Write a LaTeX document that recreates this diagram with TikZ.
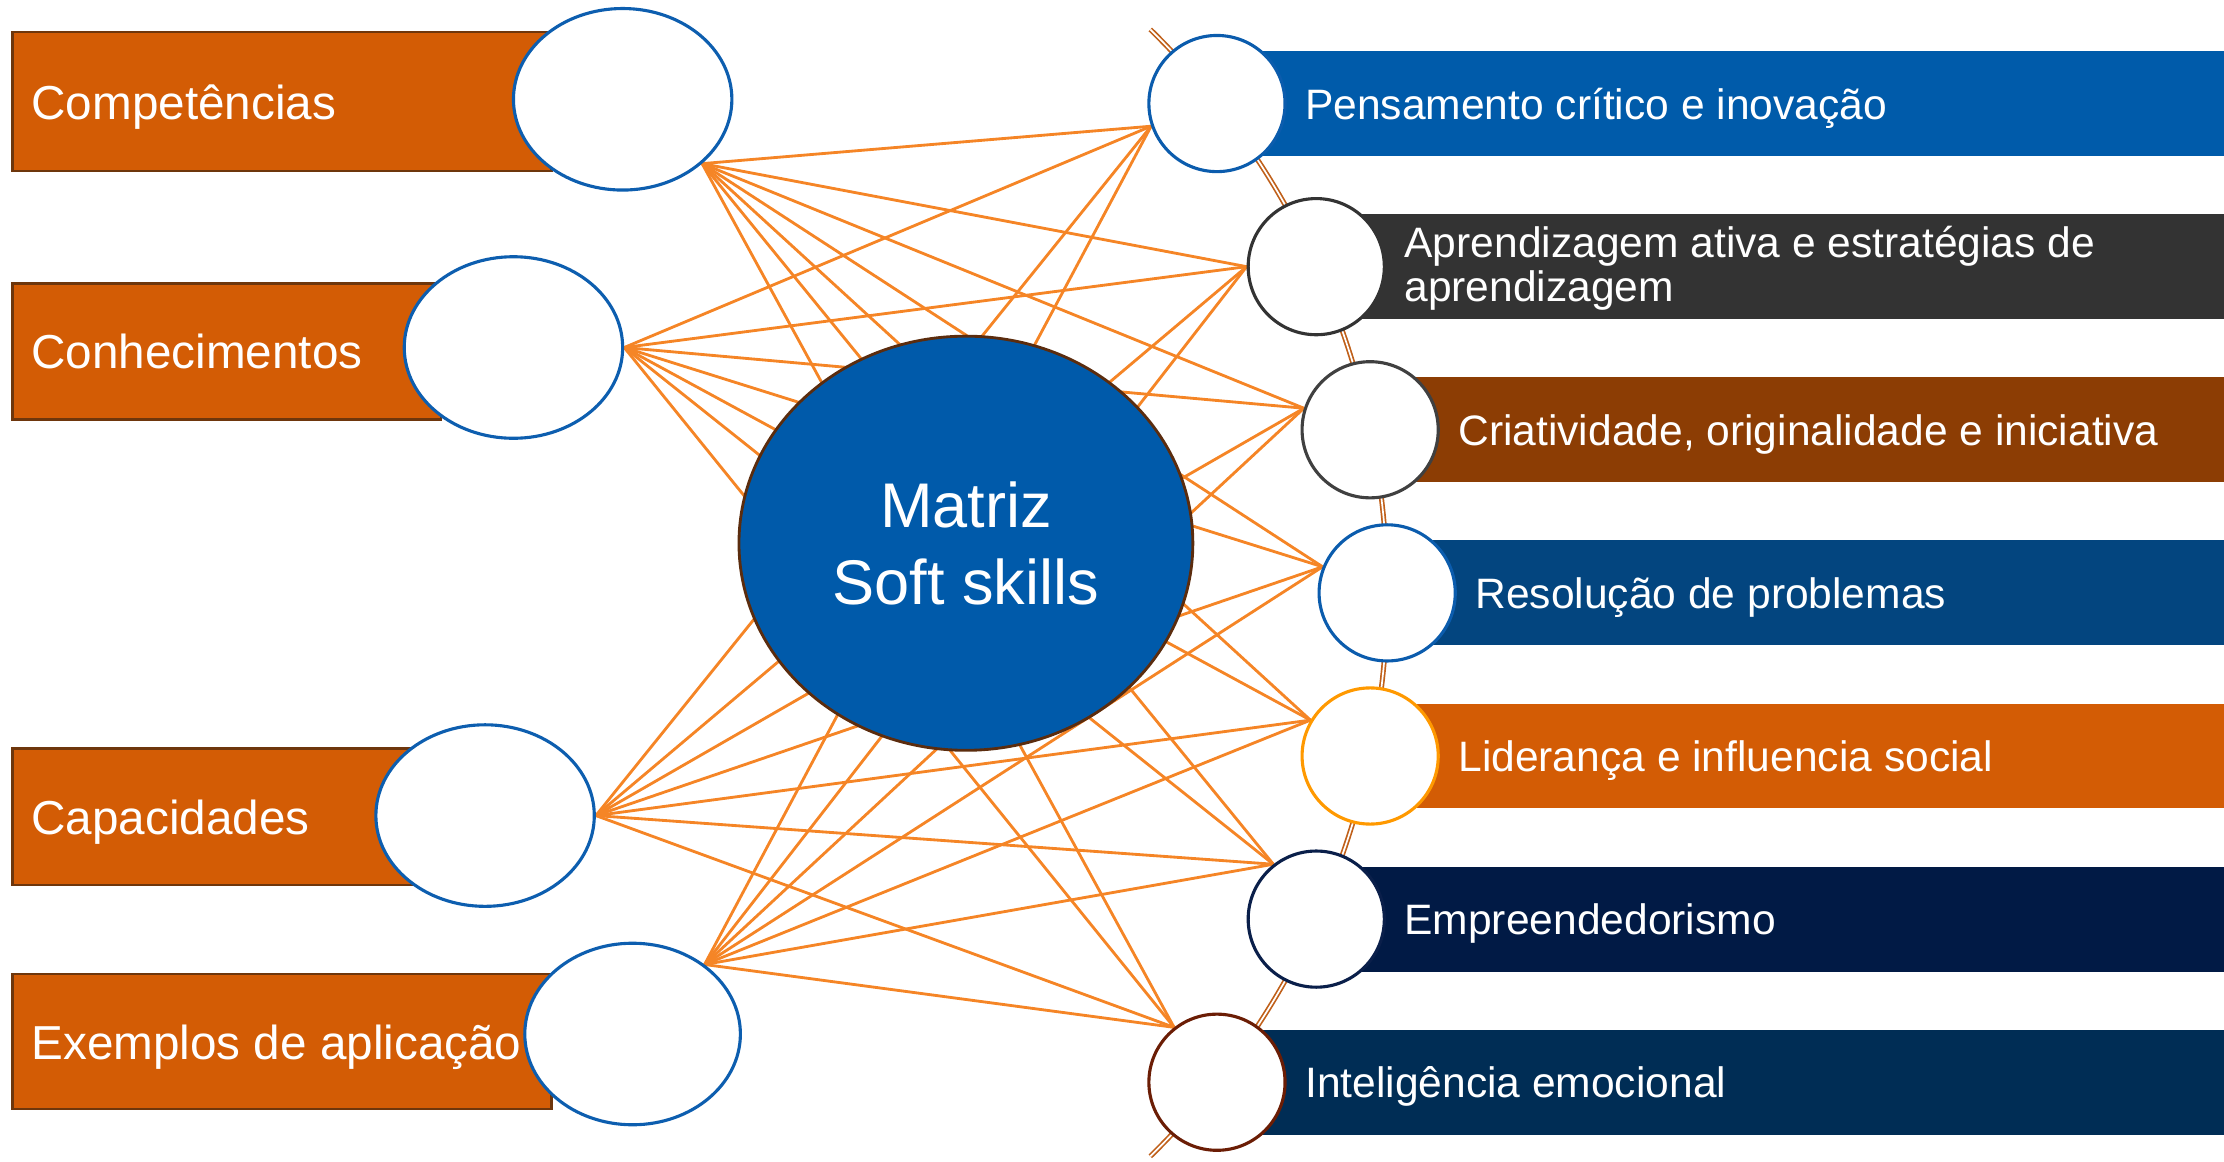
\documentclass[tikz,border=0pt]{standalone}
\usepackage{fontspec}
\setmainfont{Liberation Sans}
\usetikzlibrary{shapes.geometric}
\pgfdeclarelayer{bg}
\pgfdeclarelayer{links}
\pgfsetlayers{bg,links,main}
\definecolor{boxorange}{HTML}{D35C05}
\definecolor{boxedge}{HTML}{6E360C}
\definecolor{ellblue}{HTML}{0D5EAF}
\definecolor{centerblue}{HTML}{005AAA}
\definecolor{centeredge}{HTML}{5B2C0E}
\definecolor{linkorange}{HTML}{F58526}
\definecolor{arcbrown}{HTML}{C0601A}
\definecolor{barA}{HTML}{005BAA}
\definecolor{barB}{HTML}{333333}
\definecolor{barC}{HTML}{8C3D04}
\definecolor{barD}{HTML}{03457F}
\definecolor{barE}{HTML}{D35C05}
\definecolor{barF}{HTML}{011A45}
\definecolor{barG}{HTML}{002D55}
\definecolor{ringA}{HTML}{0B5CAD}
\definecolor{ringB}{HTML}{333333}
\definecolor{ringC}{HTML}{404040}
\definecolor{ringD}{HTML}{0B5CAD}
\definecolor{ringE}{HTML}{FF9900}
\definecolor{ringF}{HTML}{0A1F4A}
\definecolor{ringG}{HTML}{6B1D05}
\begin{document}
\begin{tikzpicture}[x=1pt,y=-1pt,
  leftbox/.style={rectangle, draw=boxedge, fill=boxorange, line width=1.6pt, anchor=north west, inner sep=0},
  ltext/.style={text=white, font=\fontsize{33.6}{40}\selectfont, anchor=base west, inner sep=0},
  leftell/.style={ellipse, draw=ellblue, fill=white, line width=2.2pt, minimum width=154pt, minimum height=128pt, inner sep=0},
  centerell/.style={ellipse, draw=centeredge, fill=centerblue, line width=2pt, minimum width=320pt, minimum height=292pt, inner sep=0, text=white, align=center, font=\fontsize{44.5}{54}\selectfont},
  bar/.style={rectangle, anchor=west, inner sep=0, minimum height=74pt},
  rtext/.style={text=white, font=\fontsize{30}{31}\selectfont, anchor=base west, inner sep=0},
  ring/.style={circle, fill=white, line width=2.2pt, minimum size=96pt, inner sep=0},
  link/.style={draw=linkorange, line width=2pt},
  arcline/.style={draw=arcbrown, line width=1.2pt, double=white, double distance=1.2pt}
]
\useasboundingbox (0,0) rectangle (1568,819);

% main layer: ellipses and circles
\node[leftell] (e1) at (439,70) {};
\node[leftell] (e2) at (362,245) {};
\node[leftell] (e3) at (342,575) {};
\node[leftell, minimum width=152pt] (e4) at (446,729) {};
\node[centerell] (m) at (681,383) {Matriz\\Soft skills};
\node[ring, draw=ringA] (r1) at (858,73) {};
\node[ring, draw=ringB] (r2) at (928,188) {};
\node[ring, draw=ringC] (r3) at (966,303) {};
\node[ring, draw=ringD] (r4) at (978,418) {};
\node[ring, draw=ringE] (r5) at (966,533) {};
\node[ring, draw=ringF] (r6) at (928,648) {};
\node[ring, draw=ringG] (r7) at (858,763) {};

\begin{pgfonlayer}{bg}
  \node[leftbox, minimum width=380pt, minimum height=98pt] (b1) at (8,22) {};
  \node[leftbox, minimum width=302pt, minimum height=96pt] (b2) at (8,199) {};
  \node[leftbox, minimum width=282pt, minimum height=96pt] (b3) at (8,527) {};
  \node[leftbox, minimum width=380pt, minimum height=95pt] (b4) at (8,686) {};
  \node[ltext] (t1) at (22,84) {Competências};
  \node[ltext] (t2) at (22,260) {Conhecimentos};
  \node[ltext] (t3) at (22,588) {Capacidades};
  \node[ltext] (t4) at (22,747) {Exemplos de aplicação};

  \node[bar, fill=barA, minimum width=710pt] (s1) at (858,73) {};
  \node[bar, fill=barB, minimum width=640pt] (s2) at (928,188) {};
  \node[bar, fill=barC, minimum width=602pt] (s3) at (966,303) {};
  \node[bar, fill=barD, minimum width=590pt] (s4) at (978,418) {};
  \node[bar, fill=barE, minimum width=602pt] (s5) at (966,533) {};
  \node[bar, fill=barF, minimum width=640pt] (s6) at (928,648) {};
  \node[bar, fill=barG, minimum width=710pt] (s7) at (858,763) {};

  \node[rtext] (u1) at (920,84) {Pensamento crítico e inovação};
  \node[rtext, anchor=west, align=left] (u2) at (990,189) {Aprendizagem ativa e estratégias de\\aprendizagem};
  \node[rtext] (u3) at (1028,314) {Criatividade, originalidade e iniciativa};
  \node[rtext] (u4) at (1040,429) {Resolução de problemas};
  \node[rtext] (u5) at (1028,544) {Liderança e influencia social};
  \node[rtext] (u6) at (990,659) {Empreendedorismo};
  \node[rtext] (u7) at (920,774) {Inteligência emocional};

  \coordinate (arccenter) at (422,418);
  \draw[arcline] (arccenter) ++(45.6:556pt) arc[start angle=45.6, end angle=-45.6, radius=556pt];
\end{pgfonlayer}

\begin{pgfonlayer}{links}
  \foreach \s/\a in {e1/-39, e2/0, e3/0, e4/44}
    \foreach \t/\b in {r1/199, r2/180, r3/162, r4/158, r5/149, r6/128, r7/128}
      \draw[link] (\s.\a) -- (\t.\b);
\end{pgfonlayer}
\end{tikzpicture}
\end{document}
